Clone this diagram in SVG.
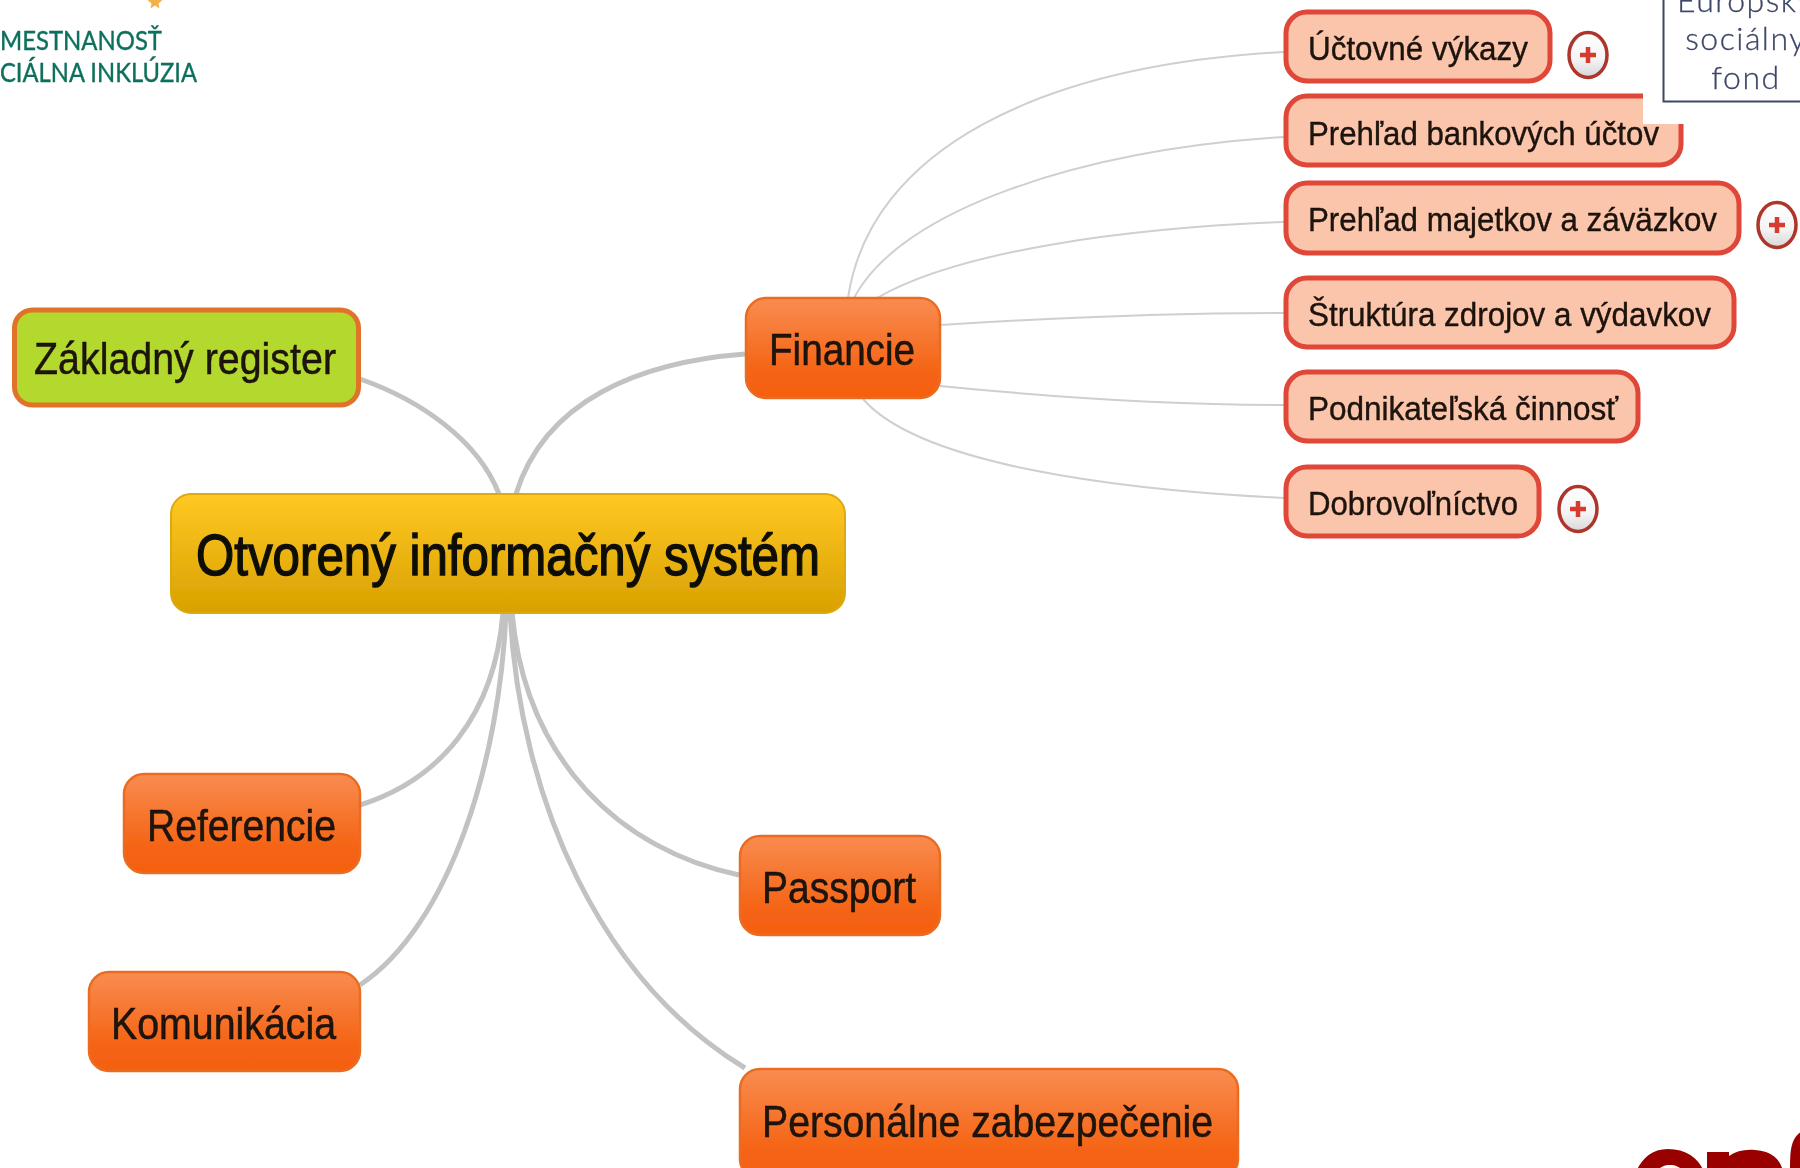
<svg xmlns="http://www.w3.org/2000/svg" width="1800" height="1168" viewBox="0 0 1800 1168">
<style>
text{font-family:"Liberation Sans",Arial,sans-serif;fill:#1c120c}
.root{font-size:58px;stroke:#111;stroke-width:1.500;fill:#0c0a04}
.mid{font-size:44px;stroke:#1c120c;stroke-width:.5}
.leaf{font-size:33.5px;stroke:#1c120c;stroke-width:.4}
.big{fill:none;stroke:#c2c2c2;stroke-width:5;stroke-linecap:butt}
.thin{fill:none;stroke:#cfcfcf;stroke-width:2}
.orange{fill:url(#og);stroke:#ea6c20;stroke-width:2.500}
.leafbox{fill:#fbc5ac;stroke:#df4638;stroke-width:5}
.plusring{fill:url(#pg);stroke:#ad342c;stroke-width:3.500}
.plus{fill:none;stroke:#d63a2e;stroke-width:4.500}
.logo{font-family:Lato,"Noto Sans",sans-serif;font-size:26.500px;fill:#0f6f5c;stroke:#0f6f5c;stroke-width:.4}
.esf{font-family:Lato,"Open Sans",sans-serif;font-size:32px;font-weight:300;fill:#3d4768;letter-spacing:1.5px;text-anchor:middle;stroke:#3d4768;stroke-width:.3}
</style>
<defs>
<linearGradient id="og" x1="0" y1="0" x2="0" y2="1"><stop offset="0" stop-color="#f98c50"/><stop offset=".75" stop-color="#f46313"/><stop offset="1" stop-color="#f46011"/></linearGradient>
<linearGradient id="yg" x1="0" y1="0" x2="0" y2="1"><stop offset="0" stop-color="#ffc823"/><stop offset="1" stop-color="#d8a100"/></linearGradient>
<linearGradient id="pg" x1="0" y1="0" x2="0" y2="1"><stop offset="0" stop-color="#ffffff"/><stop offset=".6" stop-color="#f4f4f4"/><stop offset="1" stop-color="#d6d6d6"/></linearGradient>
<filter id="soft" x="-2%" y="-2%" width="104%" height="104%"><feGaussianBlur stdDeviation="0.7"/></filter>
</defs>
<rect width="1800" height="1168" fill="#fff"/>
<g filter="url(#soft)">
<g id="logo-zamestnanost">
<path d="M155 -6l2.500 5.500 5 .5-4 3.500 1 5-4.500-3-4.500 3 1-5-4-3.500 5-.5z" fill="#f3b24a"/>
<text class="logo" x="0" y="50" textLength="162" lengthAdjust="spacingAndGlyphs">MESTNANOSŤ</text>
<text class="logo" x="0" y="82" textLength="197" lengthAdjust="spacingAndGlyphs">CIÁLNA INKLÚZIA</text>
</g>
<g id="connectors">
<path class="big" d="M360 379C420 400 478 440 499 494"/>
<path class="big" d="M745 354C640 362 545 400 516 494"/>
<path class="big" d="M503 612C495 715 440 780 360 805"/>
<path class="big" d="M506 612C500 760 450 925 360 985"/>
<path class="big" d="M512 612C525 760 620 850 739 875"/>
<path class="big" d="M510 612C520 800 600 980 745 1068"/>
<path class="thin" d="M848 298C870 150 1040 65 1284 52"/>
<path class="thin" d="M854 298C900 210 1080 150 1284 137"/>
<path class="thin" d="M877 298C960 250 1130 228 1284 222"/>
<path class="thin" d="M940 325C1050 318 1180 313 1284 313"/>
<path class="thin" d="M940 386C1060 398 1180 405 1284 405"/>
<path class="thin" d="M863 399C920 465 1120 490 1284 498"/>
</g>
<g id="node-root">
<rect x="171" y="494" width="674" height="119" rx="20" fill="url(#yg)" stroke="#dcaa10" stroke-width="2"/>
<text class="root" x="196" y="575" textLength="624" lengthAdjust="spacingAndGlyphs">Otvorený informačný systém</text>
</g>
<g id="node-zakladny-register">
<rect x="14.500" y="310" width="344" height="95" rx="18" fill="#b4d92f" stroke="#e1722a" stroke-width="5"/>
<text class="mid" x="34" y="374" textLength="302" lengthAdjust="spacingAndGlyphs">Základný register</text>
</g>
<g id="node-financie">
<rect x="746" y="298" width="194" height="100" rx="20" class="orange"/>
<text class="mid" x="769" y="365" textLength="146" lengthAdjust="spacingAndGlyphs">Financie</text>
</g>
<g id="node-referencie">
<rect x="124" y="774" width="236" height="99" rx="20" class="orange"/>
<text class="mid" x="147" y="841" textLength="189" lengthAdjust="spacingAndGlyphs">Referencie</text>
</g>
<g id="node-passport">
<rect x="740" y="836" width="200" height="99" rx="20" class="orange"/>
<text class="mid" x="762" y="903" textLength="154" lengthAdjust="spacingAndGlyphs">Passport</text>
</g>
<g id="node-komunikacia">
<rect x="89" y="972" width="271" height="99" rx="20" class="orange"/>
<text class="mid" x="111" y="1039" textLength="225" lengthAdjust="spacingAndGlyphs">Komunikácia</text>
</g>
<g id="node-personalne">
<rect x="740" y="1069" width="498" height="110" rx="20" class="orange"/>
<text class="mid" x="762" y="1137" textLength="451" lengthAdjust="spacingAndGlyphs">Personálne zabezpečenie</text>
</g>
<g id="node-uctovne">
<rect x="1286" y="12" width="264" height="69" rx="21" class="leafbox"/>
<text class="leaf" x="1308" y="60" textLength="220" lengthAdjust="spacingAndGlyphs">Účtovné výkazy</text>
<ellipse cx="1588" cy="55" rx="19" ry="22.500" class="plusring"/>
<path class="plus" d="M1580 55H1596M1588 47V63"/>
</g>
<g id="node-bankove">
<rect x="1286" y="96" width="395" height="69" rx="21" class="leafbox"/>
<text class="leaf" x="1308" y="145" textLength="351" lengthAdjust="spacingAndGlyphs">Prehľad bankových účtov</text>
</g>
<g id="node-majetok">
<rect x="1286" y="183" width="453" height="70" rx="21" class="leafbox"/>
<text class="leaf" x="1308" y="231" textLength="409" lengthAdjust="spacingAndGlyphs">Prehľad majetkov a záväzkov</text>
<ellipse cx="1777" cy="225" rx="19" ry="22.500" class="plusring"/>
<path class="plus" d="M1769 225H1785M1777 217V233"/>
</g>
<g id="node-struktura">
<rect x="1286" y="278" width="448" height="69" rx="21" class="leafbox"/>
<text class="leaf" x="1308" y="326" textLength="403" lengthAdjust="spacingAndGlyphs">Štruktúra zdrojov a výdavkov</text>
</g>
<g id="node-podnikatelska">
<rect x="1286" y="372" width="352" height="69" rx="21" class="leafbox"/>
<text class="leaf" x="1308" y="420" textLength="310" lengthAdjust="spacingAndGlyphs">Podnikateľská činnosť</text>
</g>
<g id="node-dobrovolnictvo">
<rect x="1286" y="467" width="253" height="69" rx="21" class="leafbox"/>
<text class="leaf" x="1308" y="515" textLength="210" lengthAdjust="spacingAndGlyphs">Dobrovoľníctvo</text>
<ellipse cx="1578" cy="509" rx="19" ry="22.500" class="plusring"/>
<path class="plus" d="M1570 509H1586M1578 501V517"/>
</g>
<g id="logo-esf">
<rect x="1643" y="-5" width="165" height="129" fill="#fff"/>
<rect x="1663.500" y="-10" width="150" height="111.500" fill="#fff" stroke="#3d4768" stroke-width="2"/>
<text class="esf" x="1746" y="12">Európsky</text>
<text class="esf" x="1746" y="50">sociálny</text>
<text class="esf" x="1746" y="89">fond</text>
</g>
<g id="logo-red" fill="#990000">
<path d="M1636 1172C1642 1158 1652 1149 1668 1149C1686 1149 1699 1158 1704 1172H1684C1680 1167 1676 1165 1670 1165C1664 1165 1660 1167 1656 1172Z"/>
<path d="M1707 1172V1152H1729V1156C1736 1151 1745 1149 1755 1150C1772 1151 1781 1160 1783 1172Z"/>
<path d="M1790 1172C1790 1150 1790 1136 1806 1129V1172Z"/>
</g>
</g>
</svg>
